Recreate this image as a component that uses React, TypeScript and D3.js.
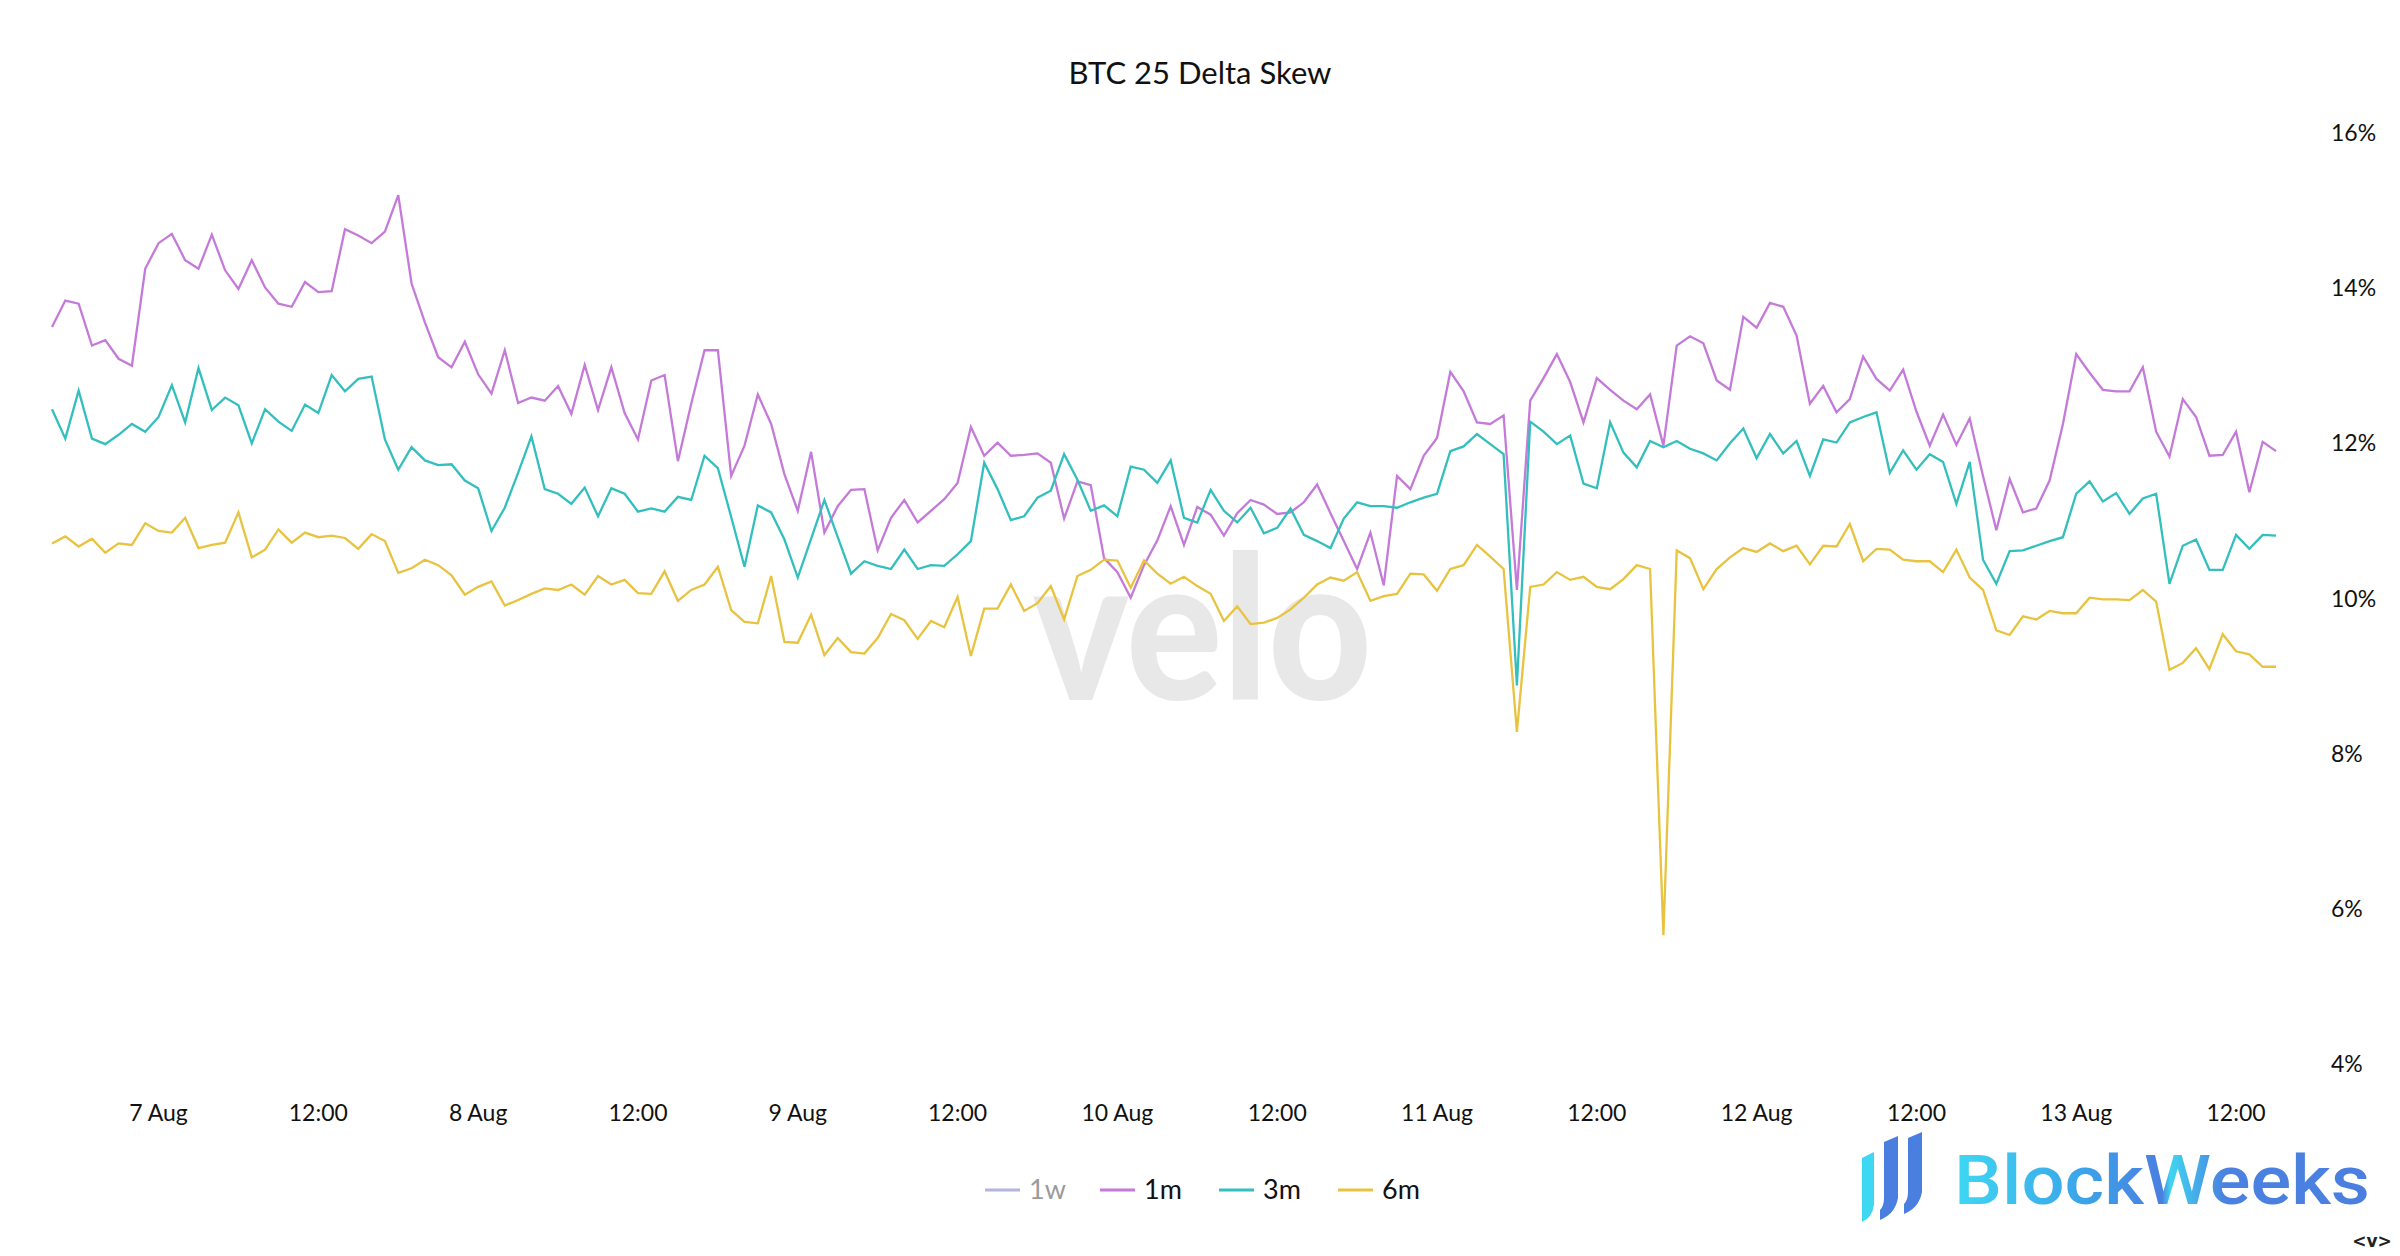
import { useEffect, useRef } from 'react';
import * as d3 from 'd3';

// hourly samples, 6 Aug 16:00 -> 13 Aug 15:00 (UTC)
const START = Date.UTC(2024, 7, 6, 16);
const HOUR = 3600 * 1000;

const skew1m = [
    13.50, 13.84, 13.80, 13.26, 13.33, 13.09, 13.00, 14.25, 14.58, 14.70,
    14.36, 14.25, 14.69, 14.23, 13.99, 14.36, 14.01, 13.80, 13.76, 14.08,
    13.95, 13.96, 14.76, 14.68, 14.58, 14.73, 15.20, 14.06, 13.56, 13.11,
    12.98, 13.31, 12.89, 12.64, 13.20, 12.52, 12.59, 12.55, 12.74, 12.38,
    13.01, 12.43, 12.98, 12.39, 12.05, 12.81, 12.88, 11.77, 12.51, 13.20,
    13.20, 11.58, 11.97, 12.63, 12.25, 11.60, 11.13, 11.89, 10.85, 11.19,
    11.40, 11.41, 10.62, 11.04, 11.27, 10.98, 11.13, 11.28, 11.49, 12.21,
    11.84, 12.01, 11.84, 11.85, 11.87, 11.75, 11.03, 11.51, 11.46, 10.52,
    10.34, 10.01, 10.43, 10.75, 11.19, 10.69, 11.18, 11.08, 10.81, 11.10,
    11.27, 11.21, 11.09, 11.11, 11.24, 11.47, 11.10, 10.74, 10.38, 10.85,
    10.17, 11.58, 11.41, 11.84, 12.07, 12.92, 12.67, 12.27, 12.25, 12.36,
    10.11, 12.55, 12.84, 13.15, 12.79, 12.27, 12.84, 12.69, 12.55, 12.44,
    12.63, 11.97, 13.26, 13.38, 13.29, 12.81, 12.69, 13.63, 13.49, 13.81,
    13.76, 13.39, 12.51, 12.74, 12.40, 12.57, 13.12, 12.83, 12.68, 12.95,
    12.41, 11.97, 12.37, 11.98, 12.32, 11.58, 10.88, 11.54, 11.11, 11.16,
    11.52, 12.25, 13.15, 12.91, 12.69, 12.67, 12.67, 12.98, 12.15, 11.83,
    12.57, 12.34, 11.84, 11.85, 12.15, 11.37, 12.02, 11.90,
];

const skew3m = [
    12.44, 12.06, 12.68, 12.06, 11.99, 12.11, 12.25, 12.15, 12.34, 12.75,
    12.27, 12.97, 12.43, 12.59, 12.49, 12.00, 12.44, 12.28, 12.16, 12.50,
    12.39, 12.88, 12.67, 12.83, 12.86, 12.05, 11.66, 11.95, 11.78, 11.72,
    11.73, 11.52, 11.42, 10.87, 11.17, 11.62, 12.09, 11.41, 11.35, 11.22,
    11.43, 11.06, 11.42, 11.35, 11.12, 11.16, 11.12, 11.31, 11.27, 11.84,
    11.68, 11.05, 10.41, 11.20, 11.11, 10.76, 10.27, 10.77, 11.27, 10.79,
    10.32, 10.48, 10.42, 10.38, 10.63, 10.38, 10.43, 10.42, 10.57, 10.74,
    11.75, 11.41, 11.01, 11.06, 11.30, 11.39, 11.86, 11.53, 11.13, 11.20,
    11.06, 11.70, 11.66, 11.49, 11.78, 11.04, 10.98, 11.40, 11.13, 10.98,
    11.17, 10.84, 10.91, 11.16, 10.82, 10.74, 10.65, 11.03, 11.24, 11.19,
    11.19, 11.17, 11.24, 11.30, 11.35, 11.90, 11.96, 12.12, 11.99, 11.86,
    8.88, 12.28, 12.15, 11.99, 12.10, 11.48, 11.42, 12.27, 11.88, 11.69,
    12.03, 11.95, 12.03, 11.93, 11.87, 11.78, 12.00, 12.19, 11.81, 12.12,
    11.87, 12.03, 11.58, 12.05, 12.01, 12.27, 12.34, 12.40, 11.62, 11.91,
    11.66, 11.86, 11.76, 11.22, 11.76, 10.50, 10.19, 10.61, 10.62, 10.68,
    10.74, 10.79, 11.35, 11.51, 11.25, 11.36, 11.09, 11.29, 11.35, 10.19,
    10.68, 10.76, 10.37, 10.37, 10.82, 10.64, 10.82, 10.81,
];

const skew6m = [
    10.71, 10.80, 10.67, 10.77, 10.59, 10.71, 10.69, 10.97, 10.87, 10.85,
    11.04, 10.65, 10.69, 10.72, 11.11, 10.53, 10.63, 10.89, 10.72, 10.85,
    10.79, 10.81, 10.78, 10.64, 10.83, 10.74, 10.33, 10.39, 10.50, 10.43,
    10.30, 10.05, 10.15, 10.22, 9.91, 9.98, 10.06, 10.13, 10.11, 10.18,
    10.05, 10.29, 10.18, 10.24, 10.07, 10.06, 10.35, 9.97, 10.11, 10.18,
    10.41, 9.85, 9.70, 9.68, 10.29, 9.44, 9.43, 9.79, 9.27, 9.49,
    9.31, 9.29, 9.49, 9.80, 9.72, 9.48, 9.71, 9.63, 10.02, 9.26,
    9.87, 9.87, 10.18, 9.84, 9.94, 10.16, 9.73, 10.29, 10.37, 10.50,
    10.49, 10.14, 10.49, 10.32, 10.19, 10.28, 10.16, 10.06, 9.71, 9.90,
    9.67, 9.69, 9.75, 9.86, 10.01, 10.18, 10.27, 10.23, 10.34, 9.97,
    10.03, 10.06, 10.32, 10.31, 10.10, 10.38, 10.43, 10.69, 10.54, 10.38,
    8.28, 10.15, 10.18, 10.34, 10.24, 10.28, 10.15, 10.12, 10.25, 10.43,
    10.38, 5.66, 10.62, 10.52, 10.12, 10.38, 10.53, 10.65, 10.60, 10.71,
    10.61, 10.68, 10.44, 10.68, 10.67, 10.96, 10.48, 10.64, 10.63, 10.50,
    10.48, 10.48, 10.34, 10.63, 10.27, 10.11, 9.59, 9.53, 9.77, 9.73,
    9.84, 9.81, 9.81, 10.01, 9.99, 9.99, 9.98, 10.11, 9.96, 9.08,
    9.17, 9.36, 9.09, 9.54, 9.32, 9.28, 9.12, 9.12,
];

const yTicks = [4, 6, 8, 10, 12, 14, 16];

const series = [
    { name: '1w', values: [] as number[], color: '#b4b4dc', hidden: true },
    { name: '1m', values: skew1m, color: '#c47ad8', hidden: false },
    { name: '3m', values: skew3m, color: '#33bfbd', hidden: false },
    { name: '6m', values: skew6m, color: '#e8c340', hidden: false },
];

const FONT = 'Lato, "Noto Sans", sans-serif';

export default function App() {
    const chartRef = useRef<SVGGElement>(null);
    const width = 2400;
    const height = 1256;

    useEffect(() => {
        if (!chartRef.current) return;
        document.body.style.margin = '0';

        const svg = d3.select(chartRef.current);
        svg.selectAll('*').remove();

        const x = d3.scaleUtc()
            .domain([new Date(START), new Date(START + 167 * HOUR)])
            .range([52, 2276]);

        const y = d3.scaleLinear()
            .domain([4, 16])
            .range([1064, 133]);

        // velo watermark
        svg.append('text')
            .attr('x', 1033)
            .attr('y', 700)
            .attr('font-family', FONT)
            .attr('font-weight', 900)
            .attr('font-size', 200)
            .attr('fill', '#e8e8e8')
            .attr('textLength', 339)
            .attr('lengthAdjust', 'spacingAndGlyphs')
            .text('velo');

        // Title
        svg.append('text')
            .attr('x', width / 2)
            .attr('y', 84)
            .attr('text-anchor', 'middle')
            .attr('font-family', FONT)
            .attr('font-size', 31)
            .attr('fill', '#111')
            .text('BTC 25 Delta Skew');

        // Y axis labels (right side, no line)
        svg.append('g')
            .selectAll('text')
            .data(yTicks)
            .enter().append('text')
            .attr('x', 2331)
            .attr('y', d => y(d))
            .attr('dy', '0.35em')
            .attr('font-family', FONT)
            .attr('font-size', 23)
            .attr('fill', '#111')
            .text(d => `${d}%`);

        // X axis labels
        const xTicks = d3.utcHour.every(12)!.range(new Date(START), new Date(START + 168 * HOUR));
        const dayFmt = d3.utcFormat('%-d %b');
        svg.append('g')
            .selectAll('text')
            .data(xTicks)
            .enter().append('text')
            .attr('x', d => x(d))
            .attr('y', 1113)
            .attr('dy', '0.35em')
            .attr('text-anchor', 'middle')
            .attr('font-family', FONT)
            .attr('font-size', 23)
            .attr('fill', '#111')
            .text(d => (d.getUTCHours() === 0 ? dayFmt(d) : '12:00'));

        // Lines
        const line = d3.line<number>()
            .x((_, i) => x(new Date(START + i * HOUR)))
            .y(d => y(d));

        series.filter(s => !s.hidden).forEach(s => {
            svg.append('path')
                .datum(s.values)
                .attr('fill', 'none')
                .attr('stroke', s.color)
                .attr('stroke-width', 2.3)
                .attr('d', line);
        });

        // Legend
        const legendX = [985, 1100, 1219, 1338];
        const legend = svg.append('g');
        series.forEach((s, i) => {
            const g = legend.append('g').attr('transform', `translate(${legendX[i]},1190)`);
            g.append('line')
                .attr('x1', 0).attr('x2', 35)
                .attr('stroke', s.color)
                .attr('stroke-width', 3);
            g.append('text')
                .attr('x', 44)
                .attr('dy', '0.35em')
                .attr('font-family', FONT)
                .attr('font-size', 27)
                .attr('fill', s.hidden ? '#9a9a9a' : '#111')
                .text(s.name);
        });
    }, []);

    return (
        <svg width={width} height={height}
            style={{ position: 'absolute', left: 0, top: 0, background: '#fff' }}>
            <defs>
                <linearGradient id="bwGrad" x1="0" x2="1" y1="0" y2="0">
                    <stop offset="0" stopColor="#3fd8f2" />
                    <stop offset="0.3" stopColor="#3aa6ea" />
                    <stop offset="0.5" stopColor="#4a7fe0" />
                    <stop offset="0.52" stopColor="#40d4f0" />
                    <stop offset="0.65" stopColor="#4a82e0" />
                    <stop offset="1" stopColor="#4a7fe0" />
                </linearGradient>
            </defs>
            <g ref={chartRef} />
            {/* BlockWeeks logo */}
            <g>
                <path d="M1862,1158 L1874,1152 L1874,1205 Q1872,1218 1862,1222 Z" fill="#3fd8f2" />
                <path d="M1884,1142 L1898,1136 L1898,1198 Q1895,1214 1880,1220 L1880,1210 Q1884,1206 1884,1198 Z" fill="#4a7fe0" />
                <path d="M1908,1138 L1922,1132 L1922,1192 Q1919,1208 1904,1214 L1904,1204 Q1908,1200 1908,1192 Z" fill="#4a7fe0" />
                <text x={1954} y={1204} fontFamily="Roboto, sans-serif" fontWeight={500} fontSize={68}
                    fill="url(#bwGrad)" textLength={416} lengthAdjust="spacingAndGlyphs">BlockWeeks</text>
            </g>
            <text x={2372} y={1247} textAnchor="middle" fontFamily="'DejaVu Sans', sans-serif"
                fontWeight={700} fontSize={17} fill="#222">{'<v>'}</text>
        </svg>
    );
}
